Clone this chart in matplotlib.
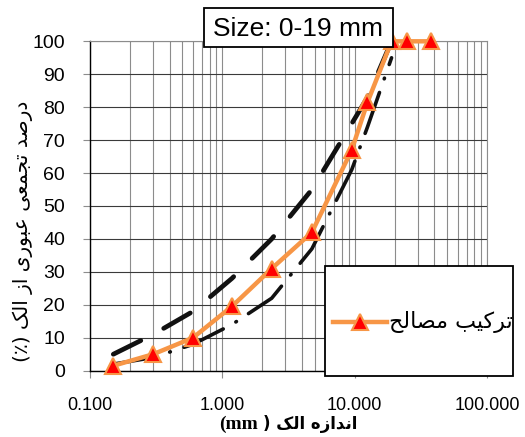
import matplotlib
matplotlib.use("Agg")
import matplotlib.pyplot as plt
from matplotlib.lines import Line2D
from matplotlib.patches import Rectangle
from matplotlib.ticker import FixedLocator, LogLocator, FuncFormatter, NullFormatter

# ---------------- data ----------------
sieve_sizes = [0.15, 0.3, 0.6, 1.18, 2.36, 4.75, 9.5, 12.5, 19]
upper_limit = [5, 11, 18, 28, 40, 55, 75, 83, 100]
lower_limit = [2, 4, 8, 14, 22, 37, 61, 74, 95]

mix_sizes = [0.15, 0.3, 0.6, 1.18, 2.36, 4.75, 9.5, 12.5, 19, 25, 37.5]
mix_passing = [1.5, 5, 10, 19.5, 31, 42, 67, 81.5, 100, 100, 100]

y_ticks = [0, 10, 20, 30, 40, 50, 60, 70, 80, 90, 100]
x_ticks = [0.1, 1, 10, 100]

title_text = "Size: 0-19 mm"
legend_label = "ترکیب مصالح"
y_label = "درصد تجمعی عبوری از الک (٪)"
x_label_fa = "اندازه الک"

# ---------------- Persian shaping (presentation forms + RTL) ----------------
FORMS = {
    '\u0627': ('\uFE8D', '\uFE8E', None, None),
    '\u0628': ('\uFE8F', '\uFE90', '\uFE91', '\uFE92'),
    '\u062A': ('\uFE95', '\uFE96', '\uFE97', '\uFE98'),
    '\u062C': ('\uFE9D', '\uFE9E', '\uFE9F', '\uFEA0'),
    '\u062D': ('\uFEA1', '\uFEA2', '\uFEA3', '\uFEA4'),
    '\u062F': ('\uFEA9', '\uFEAA', None, None),
    '\u0631': ('\uFEAD', '\uFEAE', None, None),
    '\u0632': ('\uFEAF', '\uFEB0', None, None),
    '\u0635': ('\uFEB9', '\uFEBA', '\uFEBB', '\uFEBC'),
    '\u0639': ('\uFEC9', '\uFECA', '\uFECB', '\uFECC'),
    '\u0644': ('\uFEDD', '\uFEDE', '\uFEDF', '\uFEE0'),
    '\u0645': ('\uFEE1', '\uFEE2', '\uFEE3', '\uFEE4'),
    '\u0646': ('\uFEE5', '\uFEE6', '\uFEE7', '\uFEE8'),
    '\u0647': ('\uFEE9', '\uFEEA', '\uFEEB', '\uFEEC'),
    '\u0648': ('\uFEED', '\uFEEE', None, None),
    '\u06CC': ('\uFBFC', '\uFBFD', '\uFBFE', '\uFBFF'),
    '\u06A9': ('\uFB8E', '\uFB8F', '\uFB90', '\uFB91'),
}


def shape(s):
    out = []
    for i, c in enumerate(s):
        if c not in FORMS:
            out.append(c)
            continue
        f = FORMS[c]
        prev = s[i - 1] if i > 0 else ''
        nxt = s[i + 1] if i + 1 < len(s) else ''
        jp = prev in FORMS and FORMS[prev][2] is not None
        jn = nxt in FORMS and f[2] is not None
        if jp and jn:
            out.append(f[3])
        elif jp:
            out.append(f[1])
        elif jn:
            out.append(f[2])
        else:
            out.append(f[0])
    vis = ''.join(reversed(out))
    return vis.translate(str.maketrans('()', ')('))


# ---------------- figure ----------------
W, H = 525, 437
fig = plt.figure(figsize=(W / 100, H / 100), dpi=100)
ax = fig.add_axes([90 / W, 1 - 370.7 / H, (487 - 90) / W, (370.7 - 41.3) / H])

ax.set_xscale('log')
ax.set_xlim(0.1, 100)
ax.set_ylim(0, 100)

ax.xaxis.set_major_locator(FixedLocator(x_ticks))
ax.xaxis.set_minor_locator(LogLocator(base=10, subs=range(2, 10)))
ax.xaxis.set_major_formatter(FuncFormatter(lambda v, p: f"{v:.3f}"))
ax.xaxis.set_minor_formatter(NullFormatter())
ax.set_yticks(y_ticks)

ax.grid(True, which='both', axis='x', color='#8c8c8c', lw=0.8)
ax.grid(True, which='major', axis='y', color='#3a3a3a', lw=0.8)
ax.set_axisbelow(True)

for side in ['top', 'right']:
    ax.spines[side].set_color('#8c8c8c')
    ax.spines[side].set_linewidth(0.8)
ax.spines['left'].set_color('black')
ax.spines['bottom'].set_color('black')
ax.spines['left'].set_linewidth(1.0)
ax.spines['bottom'].set_linewidth(1.0)

ax.tick_params(axis='y', which='major', length=5, color='#8c8c8c', pad=13,
               labelsize=14)
ax.tick_params(axis='x', which='major', length=5, color='#8c8c8c', pad=14,
               labelsize=13)
ax.tick_params(axis='x', which='minor', length=0)
for lab in ax.get_xticklabels() + ax.get_yticklabels():
    lab.set_fontfamily('Liberation Sans')

# limits lines
ax.plot(sieve_sizes, lower_limit, color='#111111', lw=2.6,
        linestyle=(0, (12, 4, 0.2, 4)), dash_capstyle='round', zorder=3)
ax.plot(sieve_sizes, upper_limit, color='#111111', lw=3.4,
        linestyle=(0, (6.5, 5.5)), dash_capstyle='round', zorder=3)
# mix gradation
ax.plot(mix_sizes, mix_passing, color='#F79646', lw=3.2, marker='^',
        markersize=12, markerfacecolor='#FF0000', markeredgecolor='#F79646',
        markeredgewidth=1.5, zorder=5, clip_on=False)

# y label
fig.text(23 / W, 1 - 231 / H, shape(y_label), rotation=90, ha='center',
         va='center', fontsize=14.5, family='DejaVu Sans')

# x label: "(mm ) اندازه الک"
fig.text(258 / W, 1 - 424 / H, "(mm", ha='right', va='center',
         fontsize=14, family='Liberation Serif', fontweight='bold')
fig.text(263 / W, 1 - 424 / H, ") " + shape(x_label_fa), ha='left',
         va='center', fontsize=12, family='DejaVu Sans', fontweight='bold')

# title box
fig.patches.append(Rectangle((204 / W, 1 - 47.3 / H), (392.7 - 204) / W,
                             39 / H, transform=fig.transFigure,
                             facecolor='white', edgecolor='black', lw=1.3,
                             zorder=10))
fig.text(298.3 / W, 1 - 28.5 / H, title_text, ha='center', va='center',
         fontsize=19, family='Liberation Sans', zorder=11)

# legend box
fig.patches.append(Rectangle((325 / W, 1 - 375.7 / H), (513 - 325) / W,
                             110 / H, transform=fig.transFigure,
                             facecolor='white', edgecolor='black', lw=1.3,
                             zorder=10))
ly = 1 - 321.7 / H
fig.lines.append(Line2D([333 / W, 387 / W], [ly, ly], transform=fig.transFigure,
                        color='#F79646', lw=3.2, zorder=11))
fig.lines.append(Line2D([360 / W], [ly], transform=fig.transFigure,
                        marker='^', markersize=12, markerfacecolor='#FF0000',
                        markeredgecolor='#F79646', markeredgewidth=1.5,
                        zorder=12))
fig.text(389 / W, ly, shape(legend_label), ha='left', va='center',
         fontsize=16, family='DejaVu Sans', zorder=12)

fig.savefig('out.png', dpi=100)
